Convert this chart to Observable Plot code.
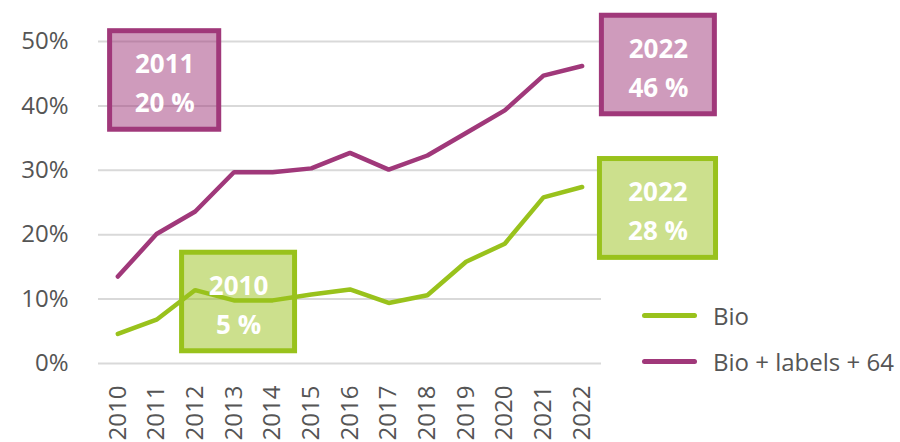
<!DOCTYPE html>
<html>
<head>
<meta charset="utf-8">
<script src="https://cdn.jsdelivr.net/npm/d3@7"></script>
<script src="https://cdn.jsdelivr.net/npm/@observablehq/plot@0.6"></script>
<style>
  html, body { margin: 0; padding: 0; background: #fff; }
  #wrap { position: relative; width: 900px; height: 442px; overflow: hidden; font-family: "Open Sans", sans-serif; }
  .leg { position: absolute; left: 642px; display: flex; align-items: center; font-size: 24px; font-weight: 500; color: #555; white-space: nowrap; }
  .leg span.sw { display: inline-block; width: 55px; height: 5px; border-radius: 3px; margin-right: 16px; }
</style>
</head>
<body>
<div id="wrap"></div>
<script>
// Data (percent)
const years = [2010, 2011, 2012, 2013, 2014, 2015, 2016, 2017, 2018, 2019, 2020, 2021, 2022];
const bio = [4.6, 6.8, 11.4, 9.8, 9.8, 10.7, 11.5, 9.4, 10.6, 15.8, 18.6, 25.8, 27.4];
const bioLabels64 = [13.5, 20.1, 23.6, 29.7, 29.7, 30.3, 32.7, 30.1, 32.3, 35.8, 39.3, 44.7, 46.2];
const seriesNames = ["Bio", "Bio + labels + 64"];
const seriesColors = ["#99c21c", "#a0387a"];
const yTicks = [0, 10, 20, 30, 40, 50];

// Annotation boxes (data units)
const annText = ["2011\n20 %", "2010\n5 %", "2022\n46 %", "2022\n28 %"];
const annSeries = [1, 0, 1, 0];
const annX1 = [2009.8, 2011.66, 2022.51, 2022.46];
const annX2 = [2012.62, 2014.58, 2025.43, 2025.46];
const annY1 = [36.3, 1.9, 38.7, 16.4];
const annY2 = [51.6, 17.2, 54.0, 31.75];

const rows = [];
years.forEach((y, i) => {
  rows.push({year: y, value: bio[i], s: seriesNames[0]});
  rows.push({year: y, value: bioLabels64[i], s: seriesNames[1]});
});
const ann = annText.map((t, i) => ({
  text: t, color: seriesColors[annSeries[i]],
  x1: annX1[i], x2: annX2[i], y1: annY1[i], y2: annY2[i]
}));

const chart = Plot.plot({
  width: 900,
  height: 442,
  marginLeft: 98,
  marginRight: 299,
  marginTop: 41,
  marginBottom: 79,
  style: {fontFamily: "Open Sans, sans-serif", fontSize: "24px", fontWeight: 500, color: "#555", background: "transparent", overflow: "visible"},
  x: {domain: [2009.5, 2022.5]},
  y: {domain: [0, 50]},
  marks: [
    Plot.gridY(yTicks, {stroke: "#d9d9d9", strokeOpacity: 1, strokeWidth: 2}),
    Plot.axisY(yTicks, {tickSize: 0, tickPadding: 30, tickFormat: d => d + "%", label: null, fill: "#555"}),
    Plot.axisX(years, {tickSize: 0, tickPadding: 22, tickRotate: -90, tickFormat: d => String(d), label: null, fill: "#555"}),
    Plot.rect(ann, {x1: "x1", x2: "x2", y1: "y1", y2: "y2", fill: "color", fillOpacity: 0.5, stroke: "color", strokeWidth: 5}),
    Plot.line(rows, {x: "year", y: "value", z: "s", stroke: d => d.s === seriesNames[0] ? seriesColors[0] : seriesColors[1], strokeWidth: 4.5, strokeLinecap: "round", strokeLinejoin: "miter"}),
    Plot.text(ann, {x: d => (d.x1 + d.x2) / 2, y: d => (d.y1 + d.y2) / 2, text: "text", fill: "white", fontSize: 26, fontWeight: 700, lineHeight: 1.5})
  ]
});
const wrap = document.getElementById("wrap");
wrap.appendChild(chart);

const legTops = [315, 361];
seriesNames.forEach((n, i) => {
  const d = document.createElement("div");
  d.className = "leg";
  d.style.top = (legTops[i] - 17) + "px";
  d.style.height = "34px";
  const sw = document.createElement("span");
  sw.className = "sw";
  sw.style.background = seriesColors[i];
  d.appendChild(sw);
  d.appendChild(document.createTextNode(n));
  wrap.appendChild(d);
});
</script>
</body>
</html>
